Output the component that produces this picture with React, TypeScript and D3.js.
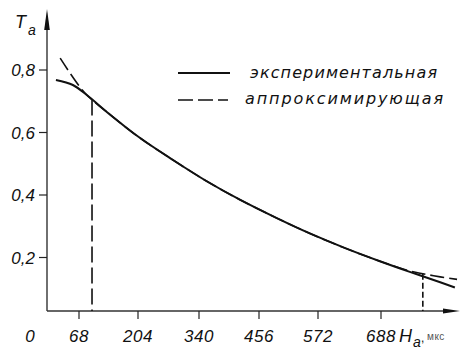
import React from "react";
import * as d3 from "d3";

// ---- data ----
const xTickValues = [68, 204, 340, 456, 572, 688];
const xTickLabels = ["68", "204", "340", "456", "572", "688"];
const yTickValues = [0.2, 0.4, 0.6, 0.8];
const yTickLabels = ["0,2", "0,4", "0,6", "0,8"];

// experimental curve (solid)
const expH = [19, 55, 86, 139, 208, 282, 355, 419, 491, 556, 622, 686, 741, 797, 824];
const expT = [0.768, 0.752, 0.72, 0.658, 0.583, 0.512, 0.444, 0.385, 0.326, 0.277, 0.23, 0.188, 0.154, 0.121, 0.104];

// approximating curve (dashed)
const apxH = [28, 49, 70, 86, 139, 208, 282, 355, 419, 491, 556, 622, 686, 741, 765, 797, 828];
const apxT = [0.838, 0.79, 0.746, 0.72, 0.658, 0.583, 0.512, 0.444, 0.385, 0.326, 0.277, 0.23, 0.188, 0.157, 0.148, 0.138, 0.13];

// vertical drop lines
const dropH = [98, 765];
const dropT = [0.706, 0.148];

const legendLabels = ["экспериментальная", "аппроксимирующая"];

export default function App() {
  const W = 462;
  const H = 353;
  const axisX = 47;
  const axisY = 311;

  // piecewise-linear x scale (tick labels are not evenly valued but evenly spaced)
  const x = d3
    .scaleLinear()
    .domain([0, ...xTickValues])
    .range([47, 79, 138, 199, 259, 318, 381]);
  const y = d3.scaleLinear().domain([0, 0.8]).range([320, 70]);

  const line = d3
    .line<[number, number]>()
    .x((d) => x(d[0]))
    .y((d) => y(d[1]))
    .curve(d3.curveCatmullRom.alpha(0.5));

  const expPts = expH.map((h, i) => [h, expT[i]] as [number, number]);
  const apxPts = apxH.map((h, i) => [h, apxT[i]] as [number, number]);

  const font = "'Liberation Sans', Arial, sans-serif";

  return (
    <svg
      width={W}
      height={H}
      style={{ position: "absolute", left: 0, top: 0, background: "#fff" }}
    >
      <rect width={W} height={H} fill="#fff" />
      {/* axes */}
      <line x1={axisX} y1={axisY} x2={446} y2={axisY} stroke="#333" strokeWidth={1.4} />
      <path d={`M460,${axisY} L443,${axisY - 2.5} L443,${axisY + 2.5} Z`} fill="#111" />
      <line x1={axisX} y1={axisY} x2={axisX} y2={26} stroke="#333" strokeWidth={1.4} />
      <path d={`M${axisX},9 L${axisX - 2.8},30 L${axisX + 2.8},30 Z`} fill="#111" />

      {/* y ticks */}
      {yTickValues.map((v, i) => (
        <g key={"yt" + i}>
          <line x1={39} x2={axisX} y1={y(v)} y2={y(v)} stroke="#222" strokeWidth={1.2} />
          <text
            x={35}
            y={y(v) + 6}
            textAnchor="end"
            fontFamily={font}
            fontStyle="italic"
            fontSize={17}
            fill="#111"
          >
            {yTickLabels[i]}
          </text>
        </g>
      ))}

      {/* x ticks */}
      {xTickValues.map((v, i) => (
        <g key={"xt" + i}>
          <line x1={x(v)} x2={x(v)} y1={axisY} y2={axisY + 8} stroke="#222" strokeWidth={1.2} />
          <text
            x={x(v)}
            y={342}
            textAnchor="middle"
            fontFamily={font}
            fontStyle="italic"
            fontSize={17}
            letterSpacing={0.6}
            fill="#111"
          >
            {xTickLabels[i]}
          </text>
        </g>
      ))}
      <text x={30} y={342} textAnchor="middle" fontFamily={font} fontStyle="italic" fontSize={17} fill="#111">
        0
      </text>

      {/* axis titles */}
      <text x={15} y={28} fontFamily={font} fontStyle="italic" fontSize={18} fill="#111">
        T
      </text>
      <text x={28} y={35} fontFamily={font} fontStyle="italic" fontSize={14} fill="#111">
        a
      </text>
      <text x={399} y={342} fontFamily={font} fontStyle="italic" fontSize={18} fill="#111">
        H
      </text>
      <text x={413} y={347} fontFamily={font} fontStyle="italic" fontSize={14} fill="#111">
        a
      </text>
      <text x={421} y={342} fontFamily={font} fontSize={12} fill="#111">
        ,
      </text>
      <text x={427} y={340} fontFamily={font} fontSize={10} fill="#555" letterSpacing={0.5}>
        мкс
      </text>

      {/* drop lines */}
      <line
        x1={x(dropH[0])}
        x2={x(dropH[0])}
        y1={y(dropT[0])}
        y2={axisY}
        stroke="#111"
        strokeWidth={1.6}
        strokeDasharray="16,5"
      />
      <line
        x1={x(dropH[1])}
        x2={x(dropH[1])}
        y1={y(dropT[1])}
        y2={axisY}
        stroke="#111"
        strokeWidth={1.6}
        strokeDasharray="6,3"
      />

      {/* curves */}
      <path d={line(expPts) || ""} fill="none" stroke="#111" strokeWidth={2} />
      <path d={line(apxPts) || ""} fill="none" stroke="#111" strokeWidth={1.6} strokeDasharray="14,5" />

      {/* legend */}
      <line x1={178} x2={230} y1={73} y2={73} stroke="#111" strokeWidth={1.8} />
      <text
        x={250}
        y={78}
        fontFamily="'DejaVu Sans', sans-serif"
        fontStyle="italic"
        fontSize={16}
        textLength={187}
        lengthAdjust="spacing"
        fill="#111"
      >
        {legendLabels[0]}
      </text>
      <line x1={178} x2={228} y1={100} y2={100} stroke="#111" strokeWidth={1.6} strokeDasharray="15,5" />
      <text
        x={245}
        y={104}
        fontFamily="'DejaVu Sans', sans-serif"
        fontStyle="italic"
        fontSize={16}
        textLength={198}
        lengthAdjust="spacing"
        fill="#111"
      >
        {legendLabels[1]}
      </text>
    </svg>
  );
}
